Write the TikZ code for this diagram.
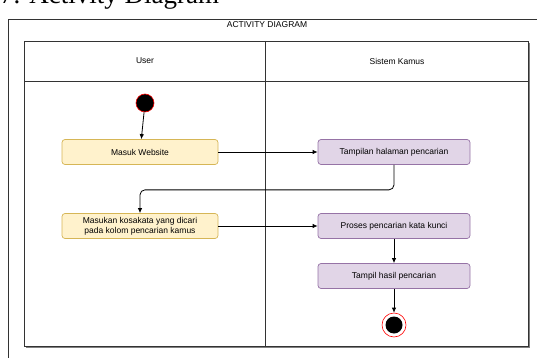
\documentclass[tikz,border=0pt]{standalone}
\usepackage{fontspec}
\setmainfont{Liberation Sans}
\newfontfamily\headfont{Liberation Serif}
\usetikzlibrary{positioning,arrows.meta}
\definecolor{usrfill}{HTML}{FFF2CC}
\definecolor{usrline}{HTML}{D6B656}
\definecolor{sysfill}{HTML}{E1D5E7}
\definecolor{sysline}{HTML}{9673A6}
\definecolor{frameline}{HTML}{333333}
\begin{document}
\begin{tikzpicture}[x=1pt, y=-1pt,
  usr/.style={draw=usrline, fill=usrfill, rounded corners=3pt, minimum width=156pt, minimum height=25pt, align=center, inner sep=1pt, line width=0.7pt},
  sys/.style={draw=sysline, fill=sysfill, rounded corners=3pt, minimum width=152pt, minimum height=25pt, align=center, inner sep=1pt, line width=0.7pt},
  lbl/.style={font=\fontsize{8.5}{10}\selectfont},
  flow/.style={-{Latex[length=5pt,width=4.5pt]}, line width=0.8pt, draw=black},
  lane/.style={draw=frameline, line width=0.8pt}]
  \useasboundingbox (0,0) rectangle (537,358);
  \clip (0,0) rectangle (537,358);

  % heading of the page, cut off at the top
  \node[font=\headfont\fontsize{27}{30}\selectfont, anchor=base west, inner sep=0pt] (head) at (0,4) {7. Activity Diagram};

  % outer frame and title
  \draw[lane] (8,360) -- (8,19) -- (540,19);
  \node[lbl] (title) at (267,25) {ACTIVITY DIAGRAM};

  % swimlanes
  \draw[gray, line width=1.6pt] (26,347) -- (529,347) -- (529,43);
  \draw[lane] (24,41) rectangle (528,346);
  \draw[lane] (24,81) -- (528,81);
  \draw[lane] (265,41) -- (265,346);
  \node[lbl] (user) at (145,61) {User};
  \node[lbl] (sistem) at (397,61) {Sistem Kamus};

  % nodes
  \node[circle, fill=black, draw=red, line width=0.6pt, minimum size=18pt, inner sep=0pt] (start) at (145,103) {};
  \node[usr, lbl] (masuk) at (140,152) {Masuk Website};
  \node[sys, lbl] (tampilan) at (394,152) {Tampilan halaman pencarian};
  \node[usr, lbl] (masukan) at (140,226) {Masukan kosakata yang dicari\\pada kolom pencarian kamus};
  \node[sys, lbl] (proses) at (394,226) {Proses pencarian kata kunci};
  \node[sys, lbl] (hasil) at (394,276) {Tampil hasil pencarian};
  \node[circle, draw=red, fill=white, line width=0.6pt, minimum size=24pt, inner sep=0pt] (end) at (394,325) {};
  \node[circle, fill=black, minimum size=17pt, inner sep=0pt] (endin) at (end.center) {};

  % connectors
  \draw[flow] (start) -- (masuk);
  \draw[flow] (masuk) -- (tampilan);
  \draw[flow, rounded corners=5pt] (tampilan.south) -- ++(0,25) -| (masukan.north);
  \draw[flow] (masukan) -- (proses);
  \draw[flow] (proses) -- (hasil);
  \draw[flow] (hasil) -- (end);
\end{tikzpicture}
\end{document}
